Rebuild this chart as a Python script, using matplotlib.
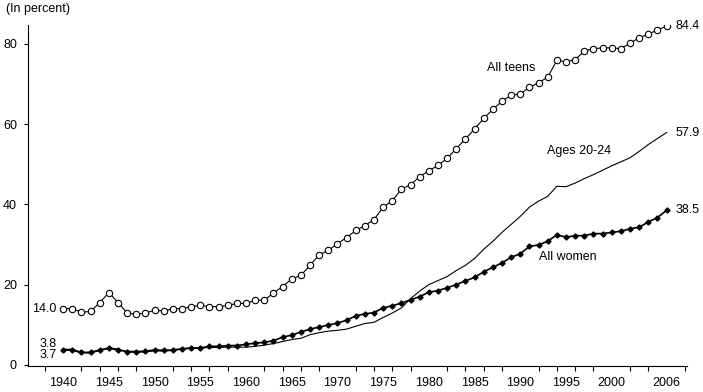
import numpy as np, matplotlib; matplotlib.use("Agg")
import matplotlib.pyplot as plt

years = list(range(1940, 2007))
all_teens = [14.0, 14.0, 13.1, 13.3, 15.5, 18.0, 15.5, 12.9, 12.6, 12.9,
             13.6, 13.4, 14.0, 14.0, 14.5, 14.8, 14.5, 14.5, 14.8, 15.3,
             15.3, 16.1, 16.1, 17.9, 19.5, 21.4, 22.3, 24.8, 27.4, 28.5,
             30.2, 31.7, 33.5, 34.7, 36.2, 39.3, 40.9, 43.8, 44.9, 46.9,
             48.4, 49.7, 51.5, 53.9, 56.3, 58.8, 61.4, 63.7, 65.7, 67.2,
             67.5, 69.2, 70.3, 71.7, 75.9, 75.5, 76.1, 78.2, 78.8, 79.0,
             79.0, 78.8, 80.2, 81.5, 82.4, 83.5, 84.4]
ages_20_24 = [3.7, 3.5, 3.0, 2.9, 3.6, 4.3, 3.9, 3.2, 3.1, 3.2,
              3.5, 3.4, 3.6, 3.9, 4.1, 4.2, 4.3, 4.3, 4.4, 4.4,
              4.4, 4.6, 4.9, 5.3, 5.8, 6.3, 6.6, 7.5, 8.0, 8.4,
              8.6, 8.9, 9.6, 10.3, 10.6, 11.8, 12.9, 14.2, 16.5, 18.4,
              20.0, 21.0, 22.0, 23.5, 24.8, 26.5, 28.8, 30.8, 33.0, 35.0,
              37.0, 39.3, 40.8, 42.0, 44.5, 44.4, 45.3, 46.4, 47.4, 48.5,
              49.6, 50.6, 51.6, 53.2, 54.9, 56.4, 57.9]
all_women = [3.8, 3.8, 3.1, 3.1, 3.7, 4.1, 3.7, 3.3, 3.3, 3.4,
             3.7, 3.6, 3.7, 4.0, 4.2, 4.2, 4.6, 4.6, 4.8, 4.8,
             5.1, 5.4, 5.6, 6.0, 6.9, 7.4, 8.2, 8.9, 9.4, 9.9,
             10.4, 11.1, 12.2, 12.7, 13.0, 14.2, 14.7, 15.4, 16.2, 17.0,
             18.1, 18.5, 19.2, 20.0, 20.9, 21.8, 23.2, 24.3, 25.4, 26.8,
             27.7, 29.5, 29.9, 30.8, 32.4, 31.8, 32.2, 32.2, 32.7, 32.7,
             33.0, 33.3, 33.9, 34.3, 35.6, 36.7, 38.5]
year_labels = [1940, 1945, 1950, 1955, 1960, 1965, 1970, 1975, 1980, 1985, 1990, 1995, 2000, 2006]

plt.rcParams["font.family"] = ["Liberation Sans", "DejaVu Sans"]
fs = 9
fig = plt.figure(figsize=(7.03, 3.92), dpi=100)
ax = fig.add_axes([28/703, 26/392, (686.7-28)/703, (366-25)/392])

ax.plot(years, ages_20_24, color="black", lw=0.8)
ax.plot(years, all_women, color="black", lw=1.2, marker="D", ms=2.6, mfc="black", mec="black")
ax.plot(years, all_teens, color="black", lw=0.8, marker="o", ms=4.6, mfc="white", mec="black", mew=0.8)

ax.set_xlim(1936.15, 2008.2)
ax.set_ylim(-0.3, 84.7)
ax.set_yticks([0, 20, 40, 60, 80])
ax.set_xticks(year_labels)
ax.set_xticks(range(1938, 2009, 2), minor=True)
ax.tick_params(axis="x", which="major", length=0, pad=8, labelsize=fs)
ax.tick_params(axis="x", which="minor", length=3.5, width=0.8, direction="out")
ax.tick_params(axis="y", length=3, width=0.8, pad=5, labelsize=fs)
for s in ["top", "right"]:
    ax.spines[s].set_visible(False)
for s in ["left", "bottom"]:
    ax.spines[s].set_linewidth(0.8)

# end labels
ax.text(1939.3, all_teens[0], f"{all_teens[0]:.1f}", ha="right", va="center", fontsize=fs)
ax.text(1939.3, all_women[0] + 1.3, f"{all_women[0]:.1f}", ha="right", va="center", fontsize=fs)
ax.text(1939.3, ages_20_24[0] - 1.3, f"{ages_20_24[0]:.1f}", ha="right", va="center", fontsize=fs)
ax.text(2007.0, all_teens[-1], f"{all_teens[-1]:.1f}", ha="left", va="center", fontsize=fs)
ax.text(2007.0, ages_20_24[-1], f"{ages_20_24[-1]:.1f}", ha="left", va="center", fontsize=fs)
ax.text(2007.0, all_women[-1], f"{all_women[-1]:.1f}", ha="left", va="center", fontsize=fs)

# series names
ax.text(1989.0, 74.0, "All teens", ha="center", va="center", fontsize=fs)
ax.text(1996.4, 53.3, "Ages 20-24", ha="center", va="center", fontsize=fs)
ax.text(1995.2, 26.8, "All women", ha="center", va="center", fontsize=fs)

fig.text(6/703, 1 - 9/392, "(In percent)", ha="left", va="center", fontsize=fs)

fig.savefig("out.png", dpi=100)
